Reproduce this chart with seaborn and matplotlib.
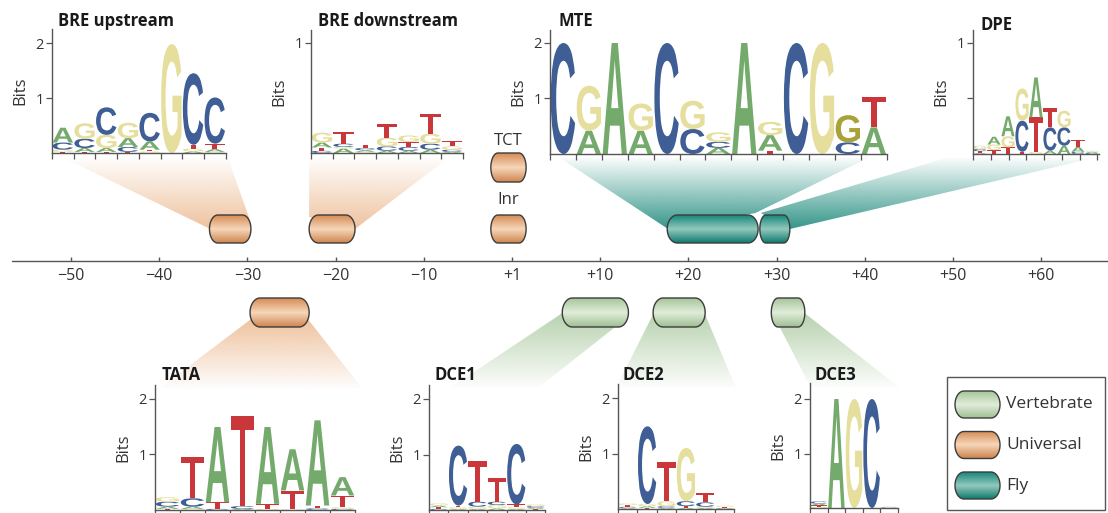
import numpy as np
import matplotlib
matplotlib.use("Agg")
import matplotlib.pyplot as plt
import seaborn as sns
from matplotlib.patches import Polygon, PathPatch, Rectangle
from matplotlib.textpath import TextPath
from matplotlib.font_manager import FontProperties
from matplotlib.transforms import Affine2D
from matplotlib.colors import LinearSegmentedColormap, to_rgb

sns.set_theme(style="white")
plt.rcParams["font.family"] = ["Open Sans", "DejaVu Sans"]

# ---------------- data ----------------
# promoter track (+1 is drawn at track position 0)
AXIS_TICKS = [-50, -40, -30, -20, -10, 0, 10, 20, 30, 40, 50, 60]
AXIS_LABELS = ["\u221250", "\u221240", "\u221230", "\u221220", "\u221210", "+1",
               "+10", "+20", "+30", "+40", "+50", "+60"]

ELEM_NAMES = ["BRE upstream", "BRE downstream", "TCT", "Inr", "MTE", "DPE",
              "TATA", "DCE1", "DCE2", "DCE3"]
ELEM_START = [-34.3, -23.0, -2.4, -2.4, 17.6, 28.1, -29.7, 5.7, 16.0, 29.4]
ELEM_END = [-29.6, -17.8, 1.6, 1.6, 27.9, 31.5, -23.0, 13.2, 21.9, 33.2]
ELEM_KIND = ["Universal", "Universal", "Universal", "Universal", "Fly", "Fly",
             "Universal", "Vertebrate", "Vertebrate", "Vertebrate"]
ELEM_ROW = ["up", "up", "tct", "up", "up", "up", "down", "down", "down", "down"]

LEGEND_KINDS = ["Vertebrate", "Universal", "Fly"]

# sequence logos: letters stacked bottom -> top, heights in bits
BRE_UP_LETTERS = ["TGCA", "TACG", "TAGC", "TCAG", "GTAC", "G", "AGTC", "GATC"]
BRE_UP_BITS = [[0.02, 0.04, 0.13, 0.27], [0.02, 0.07, 0.17, 0.28],
               [0.02, 0.07, 0.24, 0.50], [0.02, 0.09, 0.16, 0.28],
               [0.03, 0.03, 0.15, 0.52], [1.98], [0.03, 0.05, 0.07, 1.30],
               [0.02, 0.05, 0.10, 0.84]]

BRE_DOWN_LETTERS = ["CTAG", "AGCT", "GACT", "ACGT", "ACTG", "ACGT", "ACGT"]
BRE_DOWN_BITS = [[0.02, 0.03, 0.045, 0.09], [0.04, 0.015, 0.03, 0.105],
                 [0.01, 0.015, 0.02, 0.03], [0.02, 0.04, 0.08, 0.12],
                 [0.02, 0.035, 0.045, 0.06], [0.03, 0.055, 0.09, 0.18],
                 [0.01, 0.02, 0.03, 0.045]]

MTE_LETTERS = ["C", "AG", "A", "AG", "C", "CG", "ACG", "A", "TAG", "C", "G", "CG", "AT"]
MTE_BITS = [[2.0], [0.42, 0.81], [2.0], [0.42, 0.49], [2.0], [0.45, 0.51],
            [0.11, 0.11, 0.17], [2.0], [0.06, 0.28, 0.24], [2.0], [2.0],
            [0.21, 0.49], [0.48, 0.54]]
MTE_OLIVE = {(11, "G"): "#a9a23a"}

DPE_LETTERS = ["ATCG", "TGA", "TGA", "TCG", "GTA", "ACT", "ACG", "CAT", "CAG"]
DPE_BITS = [[0.01, 0.015, 0.02, 0.03], [0.035, 0.05, 0.07], [0.06, 0.10, 0.18],
            [0.02, 0.28, 0.29], [0.02, 0.31, 0.36], [0.03, 0.21, 0.17],
            [0.075, 0.165, 0.15], [0.02, 0.045, 0.06], [0.01, 0.01, 0.01]]

TATA_LETTERS = ["TACG", "GACT", "CTA", "ACT", "GTA", "GTA", "CTA", "CGTA"]
TATA_BITS = [[0.02, 0.04, 0.09, 0.08], [0.02, 0.04, 0.15, 0.75], [0.02, 0.12, 1.35],
             [0.02, 0.05, 1.62], [0.02, 0.09, 1.38], [0.01, 0.34, 0.74],
             [0.03, 0.05, 1.53], [0.02, 0.03, 0.21, 0.33]]

DCE1_LETTERS = ["CTAG", "AGTC", "AGCT", "AGCT", "AGTC", "TACG"]
DCE1_BITS = [[0.02, 0.03, 0.03, 0.04], [0.02, 0.03, 0.03, 1.08],
             [0.02, 0.04, 0.09, 0.74], [0.03, 0.06, 0.06, 0.42],
             [0.02, 0.03, 0.05, 1.09], [0.02, 0.02, 0.03, 0.03]]

DCE2_LETTERS = ["ACTG", "TAGC", "ACGT", "ATCG", "AGCT", "CATG"]
DCE2_BITS = [[0.02, 0.02, 0.03, 0.03], [0.02, 0.03, 0.04, 1.40],
             [0.02, 0.03, 0.09, 0.71], [0.02, 0.03, 0.09, 0.96],
             [0.02, 0.02, 0.08, 0.16], [0.01, 0.01, 0.02, 0.02]]

DCE3_LETTERS = ["GTAC", "A", "G", "C", "GC"]
DCE3_BITS = [[0.02, 0.03, 0.03, 0.04], [2.0], [2.0], [2.0], [0.01, 0.01]]

# ---------------- style ----------------
W, H = 1108, 513
PX_PER_BP = 8.82
BP0_PX = 512
BASE_COLORS = {"A": "#74aa6c", "C": "#3e5e95", "G": "#e5de9c", "T": "#c9373b"}
KIND_GRAD = {"Universal": ["#d68c55", "#f6d6ba", "#cf8650"],
             "Fly": ["#17877a", "#93c9bd", "#0f7a6d"],
             "Vertebrate": ["#a6c59b", "#e0edd9", "#a0bf94"]}
KIND_FUNNEL = {"Universal": "#eebf99", "Fly": "#2a9083", "Vertebrate": "#b3cfa9"}
ROW_Y = {"up": (229, 28), "tct": (167.5, 29), "down": (312.5, 29)}
TEXT_C = "#333333"
GLYPH_FONT = FontProperties(family="Liberation Sans", weight="bold")


def px2bp(px):
    return (px - BP0_PX) / PX_PER_BP


def capsule(ax, u0, u1, yc, h, kind, z=3):
    rx = min(10.0, 0.2 * (u1 - u0) * PX_PER_BP) / PX_PER_BP
    t = np.linspace(-np.pi / 2, np.pi / 2, 40)
    xr = u1 - rx + rx * np.cos(t)
    yr = yc + h / 2 * np.sin(t)
    xl = u0 + rx - rx * np.cos(t)
    yl = yc - h / 2 * np.sin(t)
    verts = np.column_stack([np.r_[xr, xl], np.r_[yr, yl]])
    poly = Polygon(verts, closed=True, facecolor="none", edgecolor="#3c3c3c",
                   lw=1.0, zorder=z + 1)
    ax.add_patch(poly)
    cmap = LinearSegmentedColormap.from_list(kind, KIND_GRAD[kind])
    img = cmap(np.linspace(0, 1, 80))[:, None, :]
    im = ax.imshow(img, extent=[u0, u1, yc + h / 2, yc - h / 2], aspect="auto",
                   interpolation="bilinear", zorder=z)
    im.set_clip_path(poly)


def funnel(ax, verts, kind, y_far, y_near):
    verts = np.asarray(verts, dtype=float)
    poly = Polygon(verts, closed=True, facecolor="none", edgecolor="none")
    ax.add_patch(poly)
    y0, y1 = verts[:, 1].min(), verts[:, 1].max()
    ys = np.linspace(y0, y1, 120)
    s = np.clip((ys - y_far) / (y_near - y_far), 0, 1)
    img = np.zeros((len(ys), 1, 4))
    img[..., :3] = to_rgb(KIND_FUNNEL[kind])
    img[:, 0, 3] = 0.03 + 0.92 * s
    im = ax.imshow(img, extent=[verts[:, 0].min(), verts[:, 0].max(), y1, y0],
                   aspect="auto", interpolation="bilinear", zorder=1)
    im.set_clip_path(poly)


def glyph(ax, letter, x0, y0, w, h, color):
    tp = TextPath((0, 0), letter, size=1, prop=GLYPH_FONT)
    bb = tp.get_extents()
    tr = Affine2D().translate(-bb.x0, -bb.y0).scale(w / bb.width, h / bb.height).translate(x0, y0)
    ax.add_patch(PathPatch(tr.transform_path(tp), facecolor=color, edgecolor="none", lw=0))


def draw_logo(fig, left, base, colw, bitpx, ymax, letters, bits, title, title_xy,
              yticks=(1, 2), yticklabels=("1", "2"), xstep=1.0, overrides=None):
    n = len(letters)
    ax = fig.add_axes([left / W, 1 - base / H, n * colw / W, ymax * bitpx / H])
    ax.set_facecolor("none")
    for i, (col, hs) in enumerate(zip(letters, bits)):
        y = 0.0
        for L, h in zip(col, hs):
            c = BASE_COLORS[L]
            if overrides and (i, L) in overrides:
                c = overrides[(i, L)]
            glyph(ax, L, i + 0.03, y, 0.94, h, c)
            y += h
    ax.set_xlim(0, n)
    ax.set_ylim(0, ymax)
    sns.despine(ax=ax)
    for sp in ("left", "bottom"):
        ax.spines[sp].set_color("#555555")
        ax.spines[sp].set_linewidth(1.0)
    ax.set_yticks(list(yticks))
    ax.set_yticklabels(list(yticklabels))
    ax.set_xticks(np.arange(0, n + 1e-6, xstep))
    ax.set_xticklabels([])
    ax.tick_params(direction="out", length=4, width=0.9, color="#555555",
                   labelsize=10.5, labelcolor=TEXT_C, pad=2, left=True, bottom=True)
    ax.set_ylabel("Bits", fontsize=12, color=TEXT_C, labelpad=5)
    ax.grid(False)
    fig.text(title_xy[0] / W, 1 - title_xy[1] / H, title, fontsize=12,
             fontweight="bold", color="#1a1a1a", ha="left", va="baseline")
    return ax


fig = plt.figure(figsize=(W / 100, H / 100), dpi=100)
ax = fig.add_axes([0, 0, 1, 1])
ax.axis("off")

# funnels linking elements to their logos
span = {n: (s, e) for n, s, e in zip(ELEM_NAMES, ELEM_START, ELEM_END)}
yc_up, h_up = ROW_Y["up"]
yc_dn, h_dn = ROW_Y["down"]
s0, s1 = span["BRE upstream"]
funnel(ax, [(px2bp(64), 158), (px2bp(228), 158), (s1 - 0.2, yc_up - h_up / 2 + 3), (s0 + 0.1, yc_up)],
       "Universal", 158, yc_up)
s0, s1 = span["BRE downstream"]
funnel(ax, [(s0, 158), (px2bp(448), 158), (s1, yc_up), (s0, yc_up - h_up / 2 + 2)],
       "Universal", 158, yc_up)
s0, s1 = span["MTE"]
funnel(ax, [(px2bp(560), 158), (px2bp(868), 158), (s1 - 0.3, yc_up - h_up / 2 - 2), (s0 + 0.1, yc_up)],
       "Fly", 158, yc_up)
s0, s1 = span["DPE"]
funnel(ax, [(px2bp(946), 158), (px2bp(1094), 158), (s1, yc_up), (s0 + 0.1, yc_up - h_up / 2 - 2)],
       "Fly", 158, yc_up)
s0, s1 = span["TATA"]
funnel(ax, [(s0 + 0.2, yc_dn + 6), (s1 - 0.2, yc_dn + 6), (px2bp(362), 388), (px2bp(160), 388)],
       "Universal", 388, yc_dn + 6)
s0, s1 = span["DCE1"]
funnel(ax, [(s0 + 0.1, yc_dn), (s1 - 1.5, yc_dn + h_dn / 2), (px2bp(538), 388), (px2bp(450), 388)],
       "Vertebrate", 388, yc_dn)
s0, s1 = span["DCE2"]
funnel(ax, [(s0 + 0.1, yc_dn), (s1 - 0.1, yc_dn), (px2bp(736), 388), (px2bp(616), 388)],
       "Vertebrate", 388, yc_dn)
s0, s1 = span["DCE3"]
funnel(ax, [(s0 + 0.1, yc_dn), (s1 - 0.1, yc_dn), (px2bp(900), 388), (px2bp(811), 388)],
       "Vertebrate", 388, yc_dn)

# promoter axis
ax.plot([px2bp(12), px2bp(W)], [261, 261], color="#555555", lw=1.0, zorder=2)
ax.vlines(AXIS_TICKS, 256.5, 261, color="#555555", lw=1.0, zorder=2)
for t, lab in zip(AXIS_TICKS, AXIS_LABELS):
    ax.text(t, 276, lab, ha="center", va="center", fontsize=11.5, color=TEXT_C)

# element capsules
for n, s, e, k, r in zip(ELEM_NAMES, ELEM_START, ELEM_END, ELEM_KIND, ELEM_ROW):
    yc, h = ROW_Y[r]
    capsule(ax, s, e, yc, h, k)
ax.text((span["TCT"][0] + span["TCT"][1]) / 2, 141, "TCT", ha="center", va="center",
        fontsize=12, color=TEXT_C)
ax.text((span["Inr"][0] + span["Inr"][1]) / 2, 200, "Inr", ha="center", va="center",
        fontsize=12, color=TEXT_C)

# legend
ax.add_patch(Rectangle((px2bp(947), 377), (1105 - 947) / PX_PER_BP, 133, facecolor="white",
                       edgecolor="#555555", lw=1.0, zorder=5))
for i, k in enumerate(LEGEND_KINDS):
    yc = 404.5 + i * 40.5
    capsule(ax, px2bp(955), px2bp(1000), yc, 27, k, z=6)
    ax.text(px2bp(1006), yc, k, ha="left", va="center", fontsize=12.5, color=TEXT_C, zorder=8)

ax.set_xlim(px2bp(0), px2bp(W))
ax.set_ylim(H, 0)

# sequence logos
draw_logo(fig, 52, 153, 21.7, 55, 2.25, BRE_UP_LETTERS, BRE_UP_BITS, "BRE upstream", (58, 26.5))
draw_logo(fig, 311, 153, 21.7, 110, 1.12, BRE_DOWN_LETTERS, BRE_DOWN_BITS, "BRE downstream",
          (318, 26.5), yticks=(1,), yticklabels=("1",))
draw_logo(fig, 550, 154, 25.9, 55.5, 2.23, MTE_LETTERS, MTE_BITS, "MTE", (558, 26.5),
          overrides=MTE_OLIVE)
draw_logo(fig, 973, 154, 14.0, 111, 1.12, DPE_LETTERS, DPE_BITS, "DPE", (981, 30),
          yticks=(0.5, 1), yticklabels=("", "1"), xstep=1.27)
draw_logo(fig, 155, 510, 25.0, 55.7, 2.24, TATA_LETTERS, TATA_BITS, "TATA", (162, 380.5))
draw_logo(fig, 429, 510, 19.4, 55.5, 2.25, DCE1_LETTERS, DCE1_BITS, "DCE1", (435, 380))
draw_logo(fig, 618, 509, 19.4, 55.5, 2.25, DCE2_LETTERS, DCE2_BITS, "DCE2", (623, 380))
draw_logo(fig, 810, 508, 17.6, 54.5, 2.3, DCE3_LETTERS, DCE3_BITS, "DCE3", (815, 380.5))

fig.savefig("out.png", dpi=100)
